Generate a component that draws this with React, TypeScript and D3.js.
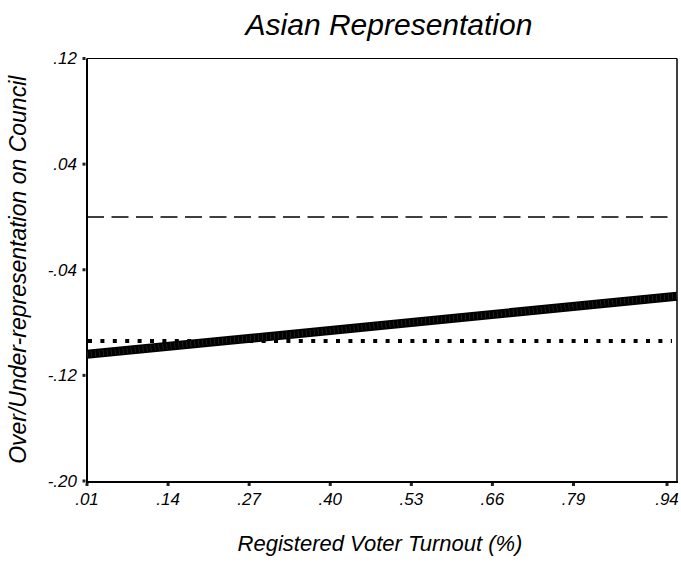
import React, { useEffect, useRef } from 'react';
import * as d3 from 'd3';

// x tick labels and their values
const xTickValues = [0.01, 0.14, 0.27, 0.40, 0.53, 0.66, 0.79, 0.94];
const xTickLabels = ['.01', '.14', '.27', '.40', '.53', '.66', '.79', '.94'];
const yTickValues = [0.12, 0.04, -0.04, -0.12, -0.20];
const yTickLabels = ['.12', '.04', '-.04', '-.12', '-.20'];

// fitted line
const fitX = [0.01, 0.40, 0.956];
const fitY = [-0.104, -0.086, -0.060];

// reference lines
const zeroLine = 0;
const meanLine = -0.094;

const W = 681, H = 569;
const left = 87, right = 677, top = 58.5, bottom = 481;

const App = () => {
  const ref = useRef<SVGSVGElement>(null);

  useEffect(() => {
    const svg = d3.select(ref.current);
    svg.selectAll('*').remove();

    const x = d3.scaleLinear().domain([0.01, 0.956]).range([left, right]);
    const y = d3.scaleLinear().domain([-0.2, 0.12]).range([bottom, top]);
    const font = "'Liberation Sans', Arial, sans-serif";

    svg.append('text')
      .attr('x', 389).attr('y', 35)
      .attr('text-anchor', 'middle')
      .style('font', `italic 30px ${font}`)
      .text('Asian Representation');

    // frame
    svg.append('line').attr('x1', left).attr('x2', right).attr('y1', top).attr('y2', top)
      .attr('stroke', '#000').attr('stroke-width', 1.2);
    svg.append('line').attr('x1', right).attr('x2', right).attr('y1', top).attr('y2', bottom + 1)
      .attr('stroke', '#000').attr('stroke-width', 1.5);
    svg.append('line').attr('x1', left).attr('x2', left).attr('y1', top).attr('y2', bottom + 2)
      .attr('stroke', '#000').attr('stroke-width', 2);
    svg.append('line').attr('x1', left - 1).attr('x2', right + 1).attr('y1', bottom + 1).attr('y2', bottom + 1)
      .attr('stroke', '#000').attr('stroke-width', 2);

    // y ticks
    yTickValues.forEach((v, i) => {
      svg.append('rect').attr('x', left - 4.5).attr('y', y(v) - 1.5)
        .attr('width', 3).attr('height', 3).attr('fill', '#222');
      svg.append('text')
        .attr('x', 77).attr('y', y(v)).attr('dy', '0.35em')
        .attr('text-anchor', 'end')
        .style('font', `italic 17px ${font}`)
        .text(yTickLabels[i]);
    });

    // x ticks
    xTickValues.forEach((v, i) => {
      const xp = x(v);
      svg.append('rect').attr('x', xp - 1.5).attr('y', bottom + 2)
        .attr('width', 3).attr('height', 3).attr('fill', '#222');
      svg.append('text')
        .attr('x', xp).attr('y', 505)
        .attr('text-anchor', 'middle')
        .style('font', `italic 17px ${font}`)
        .text(xTickLabels[i]);
    });

    // dashed zero line
    svg.append('line')
      .attr('x1', left).attr('x2', right - 7)
      .attr('y1', y(zeroLine)).attr('y2', y(zeroLine))
      .attr('stroke', '#000').attr('stroke-width', 1.5)
      .attr('stroke-dasharray', '17 7.5');

    // dotted mean line
    svg.append('line')
      .attr('x1', left + 1).attr('x2', right - 5)
      .attr('y1', y(meanLine)).attr('y2', y(meanLine))
      .attr('stroke', '#000').attr('stroke-width', 4)
      .attr('stroke-dasharray', '4 8.4');

    // thick fitted line
    const pts = fitX.map((v, i) => [x(v), y(fitY[i])] as [number, number]);
    const line = d3.line();
    svg.append('path')
      .attr('d', line(pts))
      .attr('fill', 'none')
      .attr('stroke', '#000').attr('stroke-width', 9);
    svg.append('path')
      .attr('d', line(pts))
      .attr('fill', 'none')
      .attr('stroke', '#666').attr('stroke-width', 6)
      .attr('stroke-dasharray', '0.6 3.4')
      .attr('opacity', 0.5);

    svg.append('text')
      .attr('x', 380).attr('y', 551)
      .attr('text-anchor', 'middle')
      .style('font', `italic 22px ${font}`)
      .text('Registered Voter Turnout (%)');

    svg.append('text')
      .attr('transform', `translate(26,${(top + bottom) / 2}) rotate(-90)`)
      .attr('text-anchor', 'middle')
      .style('font', `italic 23px ${font}`)
      .text('Over/Under-representation on Council');
  }, []);

  return (
    <svg ref={ref} width={W} height={H}
      style={{ position: 'absolute', left: 0, top: 0, background: '#fff' }} />
  );
};

export default App;
